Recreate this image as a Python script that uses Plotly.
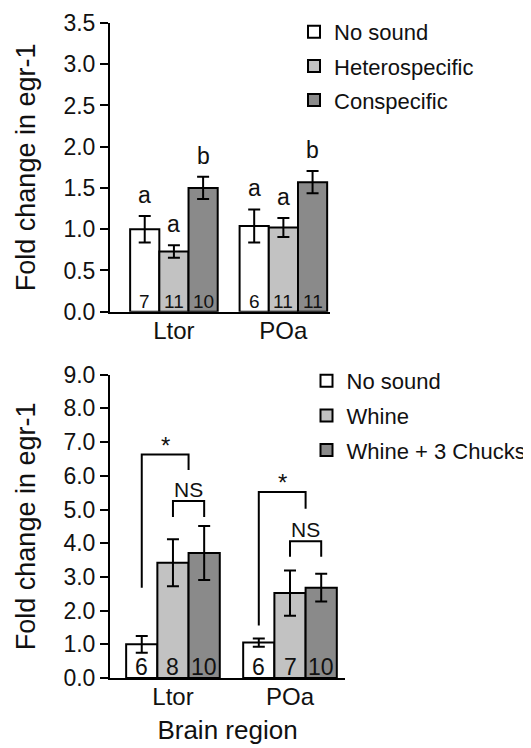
import plotly.graph_objects as go

# ---------------- data ----------------
regions = ["Ltor", "POa"]

# top panel
top_groups = ["No sound", "Heterospecific", "Conspecific"]
top_means = [[1.00, 1.04], [0.73, 1.02], [1.50, 1.57]]
top_sem = [[0.16, 0.20], [0.075, 0.115], [0.135, 0.135]]
top_n = [[7, 6], [11, 11], [10, 11]]
top_letters = [["a", "a"], ["a", "a"], ["b", "b"]]

# bottom panel
bot_groups = ["No sound", "Whine", "Whine + 3 Chucks"]
bot_means = [[1.00, 1.05], [3.42, 2.52], [3.71, 2.68]]
bot_sem = [[0.25, 0.12], [0.70, 0.67], [0.80, 0.41]]
bot_n = [[6, 6], [8, 7], [10, 10]]

# significance brackets in bottom panel (per region)
star_left_base = [2.68, 1.56]
star_top = [6.63, 5.52]
star_right_base = [6.17, 5.02]
ns_top = [5.25, 4.06]
ns_base = [4.78, 3.60]

# ---------------- style ----------------
FONT = "Liberation Sans, Arial, sans-serif"
fills = ["#ffffff", "#c2c2c2", "#8a8a8a"]
BARGAP = 0.2
w = (1 - BARGAP) / 3
xpos = [0, 1]

fig = go.Figure()

for i in range(3):
    fig.add_trace(go.Bar(
        x=xpos, y=top_means[i], name=top_groups[i],
        marker=dict(color=fills[i], line=dict(color="black", width=2)),
        error_y=dict(type="data", array=top_sem[i], color="black", thickness=2, width=6),
        xaxis="x", yaxis="y", legend="legend", legendgroup="t%d" % i,
    ))
for i in range(3):
    fig.add_trace(go.Bar(
        x=xpos, y=bot_means[i], name=bot_groups[i],
        marker=dict(color=fills[i], line=dict(color="black", width=2)),
        error_y=dict(type="data", array=bot_sem[i], color="black", thickness=2, width=6),
        xaxis="x2", yaxis="y2", legend="legend2", legendgroup="b%d" % i,
    ))

ann = []
shapes = []
for i in range(3):
    for j in range(2):
        xc = xpos[j] + (i - 1) * w
        ann.append(dict(x=xc, y=top_means[i][j] + top_sem[i][j], xref="x", yref="y",
                        text=top_letters[i][j], showarrow=False, yanchor="bottom", yshift=6,
                        font=dict(family=FONT, size=23, color="#111")))
        ann.append(dict(x=xc, y=0, xref="x", yref="y", text=str(top_n[i][j]), showarrow=False,
                        yanchor="bottom", yshift=-2, font=dict(family=FONT, size=19, color="#111")))
        ann.append(dict(x=xc, y=0, xref="x2", yref="y2", text=str(bot_n[i][j]), showarrow=False,
                        yanchor="bottom", yshift=-4, font=dict(family=FONT, size=23, color="#111")))

for j in range(2):
    xl = xpos[j] - w
    g0 = xpos[j]
    g1 = xpos[j] + w
    xm = (g0 + g1) / 2
    shapes.append(dict(type="path", xref="x2", yref="y2",
                       path="M %f,%f L %f,%f L %f,%f L %f,%f" % (xl, star_left_base[j], xl, star_top[j],
                                                              xm, star_top[j], xm, star_right_base[j]),
                       line=dict(color="black", width=2)))
    shapes.append(dict(type="path", xref="x2", yref="y2",
                       path="M %f,%f L %f,%f L %f,%f L %f,%f" % (g0, ns_base[j], g0, ns_top[j],
                                                              g1, ns_top[j], g1, ns_base[j]),
                       line=dict(color="black", width=2)))
    ann.append(dict(x=(xl + xm) / 2, y=star_top[j], xref="x2", yref="y2", text="*", showarrow=False,
                    yanchor="bottom", yshift=-6, font=dict(family=FONT, size=24, color="#111")))
    ann.append(dict(x=xm, y=ns_top[j], xref="x2", yref="y2", text="NS", showarrow=False,
                    yanchor="bottom", yshift=-2, font=dict(family=FONT, size=21, color="#111")))

yaxis_common = dict(showline=True, linecolor="black", linewidth=2, ticks="outside", ticklen=8,
                    tickwidth=2, tickcolor="black", showgrid=False, zeroline=False, automargin=False,
                    tickformat=".1f", tickfont=dict(family=FONT, size=23, color="#111"))
xaxis_common = dict(showline=True, linecolor="black", linewidth=2, ticks="", showgrid=False,
                    zeroline=False, tickvals=xpos, ticktext=regions, automargin=False,
                    ticklabelstandoff=-4,
                    tickfont=dict(family=FONT, size=24, color="#111"))

# the page adds an 8px body margin, so the figure is drawn 8px smaller and offset
fig.update_layout(
    width=523, height=740,
    margin=dict(l=102, r=186, t=15, b=70, autoexpand=False),
    paper_bgcolor="white", plot_bgcolor="white",
    barmode="group", bargap=BARGAP,
    xaxis=dict(domain=[0, 0.9362], range=[-0.584, 1.426], anchor="y", **xaxis_common),
    yaxis=dict(domain=[0.5592, 1.0], range=[0, 3.5], dtick=0.5, tick0=0, anchor="x",
               title=dict(text="Fold change in egr-1", font=dict(family=FONT, size=27, color="#111"),
                          standoff=20), **yaxis_common),
    xaxis2=dict(domain=[0, 1], range=[-0.538, 1.47], anchor="y2",
                title=dict(text="Brain region", font=dict(family=FONT, size=26, color="#111"),
                           standoff=12), **xaxis_common),
    yaxis2=dict(domain=[0, 0.463], range=[0, 9], dtick=1, tick0=0, anchor="x2",
                title=dict(text="Fold change in egr-1", font=dict(family=FONT, size=27, color="#111"),
                           standoff=20), **yaxis_common),
    legend=dict(x=0.7830, y=1.0183, xanchor="left", yanchor="top", bgcolor="rgba(0,0,0,0)",
                font=dict(family=FONT, size=22, color="#111"), tracegroupgap=2.5),
    legend2=dict(x=0.8362, y=0.4855, xanchor="left", yanchor="top", bgcolor="rgba(0,0,0,0)",
                 font=dict(family=FONT, size=22, color="#111"), tracegroupgap=3),
    annotations=ann, shapes=shapes, showlegend=True,
)

fig.write_html("out.html")
